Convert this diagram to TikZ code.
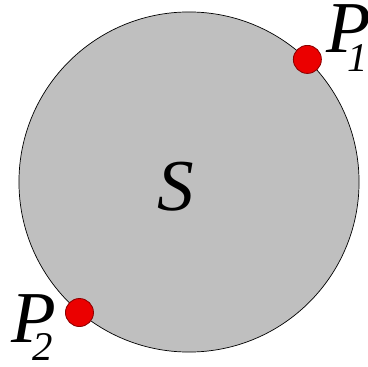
\documentclass[tikz,border=0pt]{standalone}
\usepackage{fontspec}
\setmainfont{Liberation Serif}
\newcommand{\subidx}[1]{\kern-17pt\raisebox{-13pt}{\fontsize{29}{32}\selectfont #1}}
\begin{document}
\begin{tikzpicture}[x=0.025cm, y=-0.025cm,
    region/.style={circle, draw=black, fill=black!25, line width=0.5pt,
                   minimum size=8.5cm, inner sep=0pt},
    pointdot/.style={circle, draw=red!55!black, fill=red!92!black, line width=0.6pt,
                     minimum size=0.7cm, inner sep=0pt},
    lab/.style={font=\fontsize{52}{60}\selectfont\itshape, inner sep=0pt}
]
    \useasboundingbox (0,0) rectangle (368,367);

    % the set and its name
    \node[region] (set) at (189,182) {};
    \node[lab, anchor=base] (s) at (176,210) {S};

    % the two points on the boundary
    \node[pointdot] (p1) at (set.46) {};
    \node[pointdot] (p2) at (set.230) {};

    % point labels
    \node[lab, anchor=base west] (l1) at (326,53) {P\subidx{1}};
    \node[lab, anchor=base west] (l2) at (11,342) {P\subidx{2}};
\end{tikzpicture}
\end{document}
